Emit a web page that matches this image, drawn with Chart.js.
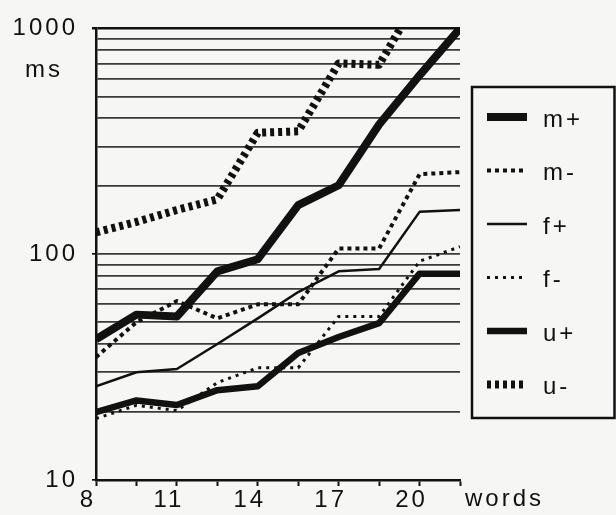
<!DOCTYPE html>
<html>
<head>
<meta charset="utf-8">
<title>ms / words</title>
<script src="https://cdn.jsdelivr.net/npm/chart.js@4.4.1/dist/chart.umd.min.js"></script>
<style>
  html, body { margin: 0; padding: 0; background: #f6f6f4; }
  #wrap { width: 616px; height: 515px; position: relative; }
</style>
</head>
<body>
<div id="wrap"><canvas id="chart" width="616" height="515"></canvas></div>
<script>
// valores (eixo y em ms, escala log)
const wordCounts = [8, 9.5, 11, 12.5, 14, 15.5, 17, 18.5, 20, 21.5];
const mPlus  = [42, 54, 53, 84, 95, 165, 202, 375, 620, 1000];
const mMinus = [35, 50, 62, 52, 60, 60, 106, 106, 226, 231];
const fPlus  = [26, 30, 31, 40, 52, 68, 84, 86, 154, 157];
const fMinus = [18.7, 21.4, 20.3, 27, 31.4, 31.4, 53, 53, 93, 108];
const uPlus  = [20, 22.5, 21.5, 25, 26, 36.5, 43, 49.5, 82, 82];
const uMinus = [125, 139, 157, 175, 345, 350, 700, 690, 1400, null];

const seriesNames = ['m+', 'm-', 'f+', 'f-', 'u+', 'u-'];
const xTickLabels = [8, 11, 14, 17, 20];
const yTickLabels = [10, 100, 1000];
const yGridValues = [10, 20, 30, 40, 50, 60, 70, 80, 90,
                     100, 200, 300, 400, 500, 600, 700, 800, 900, 1000];

const FONT = "'Liberation Sans', Arial, Helvetica, sans-serif";
const INK = '#111';
const SPACING = '3px';

/**
 * Estilo de cada série (traço grosso, pontilhado, fino...)
 */
function lineStyle(width, dash) {
    return {
        borderColor: INK,
        borderWidth: width,
        borderDash: dash,
        borderJoinStyle: 'round',
        borderCapStyle: 'butt',
        pointRadius: 0,
        tension: 0,
        fill: false
    };
}

/**
 * Plugin: textos extras ("ms", "words") e a caixa de legenda à direita
 */
const extrasPlugin = {
    id: 'extras',
    beforeDraw(chart) {
        const ctx = chart.ctx;
        ctx.save();
        ctx.fillStyle = '#f6f6f4';
        ctx.fillRect(0, 0, chart.width, chart.height);
        ctx.restore();
        ctx.letterSpacing = SPACING;
    },
    afterDraw(chart) {
        const { ctx, chartArea, scales } = chart;
        ctx.save();
        ctx.letterSpacing = SPACING;
        ctx.font = '24px ' + FONT;
        ctx.fillStyle = INK;
        ctx.textBaseline = 'middle';

        // unidade do eixo y, logo abaixo de 1000
        ctx.textAlign = 'center';
        ctx.fillText('ms', 44, scales.y.getPixelForValue(1000) + 42);

        // título do eixo x, depois do último tick
        ctx.textAlign = 'left';
        ctx.fillText('words', chartArea.right + 5, chartArea.bottom + 19);

        // caixa da legenda
        const boxX = chartArea.right + 12;
        const boxY = 87;
        const boxW = chart.width - boxX - 1.5;
        const boxH = 331;
        ctx.lineWidth = 2.5;
        ctx.strokeStyle = INK;
        ctx.strokeRect(boxX, boxY, boxW, boxH);

        chart.data.datasets.forEach((ds, i) => {
            const y = boxY + 30 + i * 53.5;
            ctx.save();
            ctx.beginPath();
            ctx.lineWidth = ds.borderWidth;
            ctx.setLineDash(ds.borderDash || []);
            ctx.moveTo(boxX + 15, y);
            ctx.lineTo(boxX + 55, y);
            ctx.stroke();
            ctx.restore();
            ctx.fillText(ds.label, boxX + 71, y + 3);
        });
        ctx.restore();
    }
};

const datasets = [
    Object.assign({ label: seriesNames[0], data: mPlus }, lineStyle(8, [])),
    Object.assign({ label: seriesNames[1], data: mMinus }, lineStyle(4, [4, 4])),
    Object.assign({ label: seriesNames[2], data: fPlus }, lineStyle(2.5, [])),
    Object.assign({ label: seriesNames[3], data: fMinus }, lineStyle(3, [3, 5])),
    Object.assign({ label: seriesNames[4], data: uPlus }, lineStyle(6.5, [])),
    Object.assign({ label: seriesNames[5], data: uMinus }, lineStyle(8, [4, 4]))
];

new Chart(document.getElementById('chart').getContext('2d'), {
    type: 'line',
    data: { labels: wordCounts, datasets: datasets.map(ds => Object.assign(ds, {
        data: ds.data.map((v, i) => ({ x: wordCounts[i], y: v }))
    })) },
    plugins: [extrasPlugin],
    options: {
        responsive: false,
        animation: false,
        events: [],
        layout: { padding: { top: 25, right: 156, left: 0, bottom: 0 } },
        plugins: {
            legend: { display: false },
            tooltip: { enabled: false }
        },
        scales: {
            x: {
                type: 'linear',
                min: 8,
                max: 21.5,
                afterBuildTicks: scale => { scale.ticks = wordCounts.map(v => ({ value: v })); },
                afterFit: scale => { scale.height = 35; },
                grid: { drawOnChartArea: false, drawTicks: true, tickLength: 6, tickColor: INK, tickWidth: 2 },
                border: { display: true, color: INK, width: 2.5 },
                ticks: {
                    color: INK,
                    font: { size: 24, family: FONT },
                    padding: 0,
                    labelOffset: -8,
                    maxRotation: 0,
                    autoSkip: false,
                    callback: v => xTickLabels.includes(v) ? String(v) : ''
                }
            },
            y: {
                type: 'logarithmic',
                min: 10,
                max: 1000,
                afterBuildTicks: scale => { scale.ticks = yGridValues.map(v => ({ value: v })); },
                afterFit: scale => { scale.width = 96; },
                grid: {
                    color: ctx => (ctx.tick && ctx.tick.value === 1000) ? INK : '#3a3a3a',
                    lineWidth: ctx => (ctx.tick && ctx.tick.value === 1000) ? 2.5 : 1.7,
                    tickLength: 4,
                    tickColor: ctx => (ctx.tick && yTickLabels.includes(ctx.tick.value)) ? INK : 'rgba(0,0,0,0)'
                },
                border: { display: true, color: INK, width: 2.5 },
                ticks: {
                    color: INK,
                    font: { size: 24, family: FONT },
                    padding: 14,
                    autoSkip: false,
                    callback: v => yTickLabels.includes(v) ? String(v) : ''
                }
            }
        }
    }
});
</script>
</body>
</html>
